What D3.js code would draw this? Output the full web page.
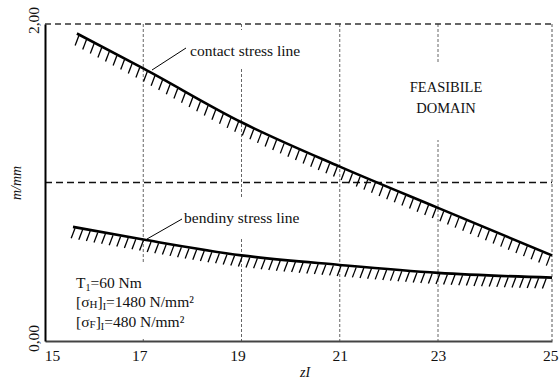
<!DOCTYPE html>
<html>
<head>
<meta charset="utf-8">
<script src="https://cdn.jsdelivr.net/npm/d3@7"></script>
<style>
  html, body { margin: 0; padding: 0; background: #fff; }
  svg { display: block; font-family: "Liberation Serif", "DejaVu Serif", serif; }
</style>
</head>
<body>
<svg id="chart" width="559" height="381"></svg>
<script>
// ---- data ----
const xTicks = [15, 17, 19, 21, 23, 25];
const gridX = [17, 19, 21, 23];
const yTicks = [0, 2];
const contactZ = [15.65, 17, 19, 21, 23, 25];
const contactM = [1.94, 1.72, 1.38, 1.10, 0.84, 0.54];
const bendingZ = [15.57, 17, 19, 21, 23, 25];
const bendingM = [0.72, 0.64, 0.54, 0.48, 0.43, 0.40];
const refLineM = 1.0;
const contactLabel = "contact stress line";
const bendingLabel = "bendiny stress line";
const domainLabel = ["FEASIBILE", "DOMAIN"];

const svg = d3.select("#chart");
const L = 45, R = 552, T = 24, B = 341;

const x = d3.scaleLinear().domain([15, 23, 25]).range([L, L + 8 * 49.125, R]);
const y = d3.scaleLinear().domain([0, 2]).range([B, T]);

// vertical grid lines
svg.append("g").selectAll("line").data(gridX).join("line")
  .attr("x1", d => x(d)).attr("x2", d => x(d))
  .attr("y1", T).attr("y2", B)
  .attr("stroke", "#666").attr("stroke-width", 1)
  .attr("stroke-dasharray", "3,2");

// right border
svg.append("line").attr("x1", x(25)).attr("x2", x(25)).attr("y1", T).attr("y2", B)
  .attr("stroke", "#555").attr("stroke-width", 1).attr("stroke-dasharray", "3,2");

// top border dashed
svg.append("line").attr("x1", L).attr("x2", R).attr("y1", y(2)).attr("y2", y(2))
  .attr("stroke", "#333").attr("stroke-width", 1.6).attr("stroke-dasharray", "6,4");

// white label backgrounds (hide grid)
const boxes = [[185, 30, 125, 38], [180, 197, 125, 40], [400, 62, 92, 78], [70, 262, 132, 75]];
svg.append("g").selectAll("rect").data(boxes).join("rect")
  .attr("x", d => d[0]).attr("y", d => d[1]).attr("width", d => d[2]).attr("height", d => d[3])
  .attr("fill", "#fff");

// reference line m = 1
svg.append("line").attr("x1", L).attr("x2", R).attr("y1", y(refLineM)).attr("y2", y(refLineM))
  .attr("stroke", "#111").attr("stroke-width", 1.5).attr("stroke-dasharray", "7,4");

// axes
const xAxis = svg.append("g").attr("transform", `translate(0,${B})`)
  .call(d3.axisBottom(x).tickValues(xTicks).tickSize(0).tickPadding(9).tickFormat(d3.format("d")));
xAxis.select(".domain").attr("stroke", "#444").attr("stroke-width", 2);
xAxis.selectAll("text").attr("font-family", "Liberation Serif").attr("font-size", 15.5).attr("fill", "#111")
  .attr("text-anchor", d => d === 25 ? "end" : "middle")
  .attr("dx", d => d === 15 ? 7 : (d === 17 || d === 19) ? -4 : d === 25 ? 6 : 0);

const yAxis = svg.append("g").attr("transform", `translate(${L},0)`)
  .call(d3.axisLeft(y).tickValues(yTicks).tickSize(0).tickFormat(d => d3.format(".2f")(d).replace(".", ",")));
yAxis.select(".domain").attr("stroke", "#000").attr("stroke-width", 2);
yAxis.selectAll(".tick text")
  .attr("font-family", "Liberation Serif").attr("font-size", 15.5).attr("fill", "#111")
  .attr("text-anchor", "middle").attr("dy", "0.35em")
  .attr("x", 0)
  .attr("transform", d => `translate(-11,${d === 2 ? -4 : -3}) rotate(-90)`);

// curves with hatching
const line = d3.line().x(d => x(d[0])).y(d => y(d[1])).curve(d3.curveMonotoneX);

function drawLimit(zs, ms) {
  const pts = zs.map((z, i) => [z, ms[i]]);
  const path = svg.append("path").datum(pts).attr("d", line)
    .attr("fill", "none").attr("stroke", "#000").attr("stroke-width", 2.6);
  const node = path.node();
  const total = node.getTotalLength();
  const x0 = x(zs[0]), x1 = x(zs[zs.length - 1]);
  const hatches = [];
  for (let px = x0 + 2; px <= x1 - 1; px += 7.6) {
    let lo = 0, hi = total;
    for (let k = 0; k < 30; k++) {
      const mid = (lo + hi) / 2;
      if (node.getPointAtLength(mid).x < px) lo = mid; else hi = mid;
    }
    const p = node.getPointAtLength(lo);
    hatches.push([p.x, p.y]);
  }
  svg.append("g").selectAll("line").data(hatches).join("line")
    .attr("x1", d => d[0]).attr("y1", d => d[1] + 1)
    .attr("x2", d => d[0] - 3.8).attr("y2", d => d[1] + 11)
    .attr("stroke", "#000").attr("stroke-width", 1.3);
}
drawLimit(contactZ, contactM);
drawLimit(bendingZ, bendingM);

// annotations
const fs = 15.5;
svg.append("line").attr("x1", 152).attr("y1", 70).attr("x2", 186).attr("y2", 48)
  .attr("stroke", "#000").attr("stroke-width", 1);
svg.append("text").attr("x", 190).attr("y", 56).attr("font-size", fs).attr("fill", "#111").text(contactLabel);

svg.append("line").attr("x1", 147).attr("y1", 239).attr("x2", 182).attr("y2", 219)
  .attr("stroke", "#000").attr("stroke-width", 1);
svg.append("text").attr("x", 184).attr("y", 223).attr("font-size", fs).attr("fill", "#111").text(bendingLabel);

svg.append("g").selectAll("text").data(domainLabel).join("text")
  .attr("x", 446).attr("y", (d, i) => 92 + i * 21)
  .attr("text-anchor", "middle").attr("font-size", 14.5).attr("fill", "#111").text(d => d);

// parameters block
const pb = svg.append("g").attr("font-size", fs).attr("fill", "#111");
const t1 = pb.append("text").attr("x", 76).attr("y", 288);
t1.append("tspan").text("T");
t1.append("tspan").attr("font-size", 10).attr("dy", 3).text("1");
t1.append("tspan").attr("dy", -3).text("=60 Nm");

const t2 = pb.append("text").attr("x", 76).attr("y", 307);
t2.append("tspan").text("[σ");
t2.append("tspan").attr("font-size", 11).attr("dy", 1).text("H");
t2.append("tspan").attr("dy", -1).text("]");
t2.append("tspan").attr("font-size", 10).attr("dy", 3).text("I");
t2.append("tspan").attr("dy", -3).text("=1480 N/mm²");

const t3 = pb.append("text").attr("x", 76).attr("y", 327);
t3.append("tspan").text("[σ");
t3.append("tspan").attr("font-size", 11).attr("dy", 1).text("F");
t3.append("tspan").attr("dy", -1).text("]");
t3.append("tspan").attr("font-size", 10).attr("dy", 3).text("I");
t3.append("tspan").attr("dy", -3).text("=480 N/mm²");

// axis titles
svg.append("text").attr("transform", "translate(21,183) rotate(-90)")
  .attr("text-anchor", "middle").attr("font-size", 14).attr("font-style", "italic").attr("fill", "#111")
  .text("m/mm");
svg.append("text").attr("x", 305).attr("y", 377).attr("text-anchor", "middle")
  .attr("font-size", 14).attr("font-style", "italic").attr("fill", "#111").text("zI");
</script>
</body>
</html>
